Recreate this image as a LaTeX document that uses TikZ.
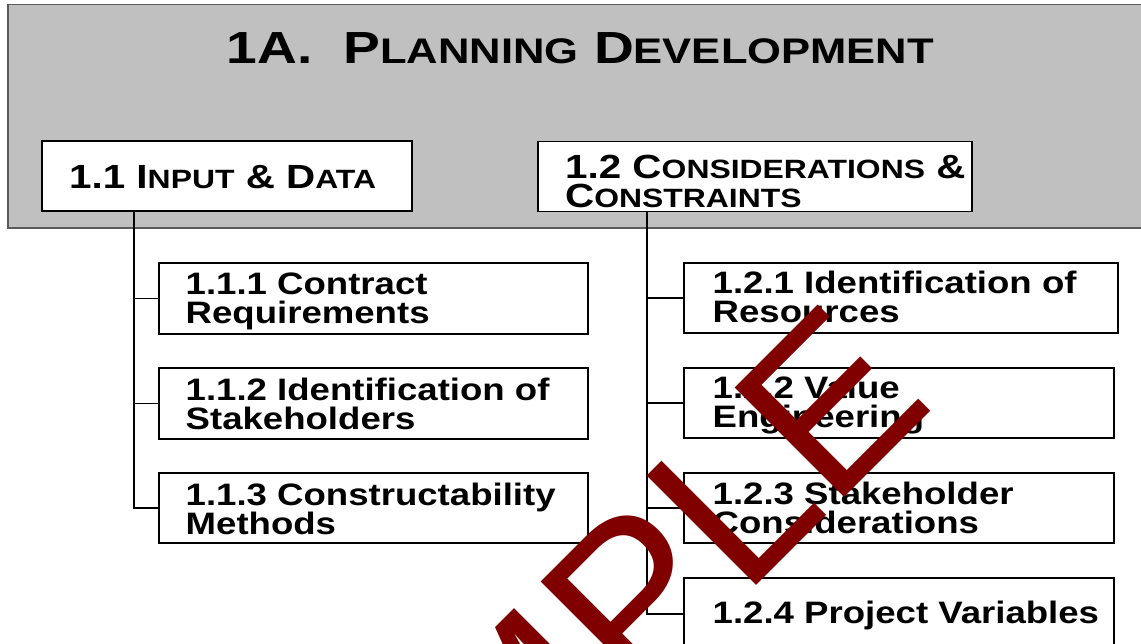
\documentclass[tikz,border=0pt]{standalone}
\usepackage{graphicx}
\usepackage{fontspec}
\setmainfont{Liberation Sans}
\usetikzlibrary{calc}
\definecolor{hdrgray}{HTML}{C0C0C0}
\definecolor{hdrline}{HTML}{5A5A5A}
\definecolor{wmred}{HTML}{800000}
\newcommand\smc[1]{\scalebox{0.79}{#1}}
\newcommand\wide[1]{\scalebox{1.18}[1]{#1}}
\newcommand\wider[1]{\scalebox{1.205}[1]{#1}}
\begin{document}
\begin{tikzpicture}[x=1pt,y=-1pt,
  box/.style={draw=black, line width=1.8pt, fill=white, inner sep=0pt, outer sep=0pt, anchor=north west},
  conn/.style={draw=black, line width=1.1pt},
  titletext/.style={font=\fontsize{45}{45}\selectfont\bfseries, inner sep=0pt, anchor=base},
  lvone/.style={font=\fontsize{33.5}{33.5}\selectfont\bfseries, inner sep=0pt, anchor=base west},
  lvtwo/.style={font=\fontsize{31}{31}\selectfont\bfseries, inner sep=0pt, anchor=base west},
  watermark/.style={font=\fontsize{225}{225}\selectfont, text=wmred, inner sep=0pt, outer sep=0pt, rotate=45, anchor=base west}]
\useasboundingbox (0,0) rectangle (1141,644);
\clip (0,0) rectangle (1141,644);
\fill[white] (0,0) rectangle (1141,644);
% header band
\path[fill=hdrgray, draw=hdrline, line width=1.2pt] (8,4.5) rectangle (1150,228);
\node[titletext] (title) at (580.5,64) {\resizebox{707pt}{\height}{1A.\ \ P\smc{LANNING} D\smc{EVELOPMENT}}};
% level one boxes
\node[box, minimum width=370pt, minimum height=70pt] (b11) at (42,141) {};
\node[box, minimum width=434pt, minimum height=70pt] (b12) at (538,141.5) {};
\node[lvone] (t11) at (69,188.5) {\wider{1.1 I\smc{NPUT} \& D\smc{ATA}}};
\node[lvone] (t12a) at (565,178.3) {\wider{1.2 C\smc{ONSIDERATIONS} \&}};
\node[lvone] (t12b) at (565,207.7) {\wider{C\smc{ONSTRAINTS}}};
% level two boxes, left
\node[box, minimum width=429pt, minimum height=71pt] (b111) at (159,263) {};
\node[box, minimum width=429pt, minimum height=71pt] (b112) at (159,368) {};
\node[box, minimum width=429pt, minimum height=70pt] (b113) at (159,473) {};
% level two boxes, right
\node[box, minimum width=434pt, minimum height=70pt] (b121) at (684,263) {};
\node[box, minimum width=430pt, minimum height=70pt] (b122) at (684,368) {};
\node[box, minimum width=430pt, minimum height=70pt] (b123) at (684,473) {};
\node[box, minimum width=430pt, minimum height=72pt] (b124) at (684,578) {};
% texts
\node[lvtwo] (t111a) at (185.5,295) {\wide{1.1.1 Contract}};
\node[lvtwo] (t111b) at (185.5,324) {\wide{Requirements}};
\node[lvtwo] (t112a) at (185.5,400) {\wide{1.1.2 Identification of}};
\node[lvtwo] (t112b) at (185.5,429) {\wide{Stakeholders}};
\node[lvtwo] (t113a) at (185.5,505) {\wide{1.1.3 Constructability}};
\node[lvtwo] (t113b) at (185.5,534) {\wide{Methods}};
\node[lvtwo] (t121a) at (712.5,294) {\wide{1.2.1 Identification of}};
\node[lvtwo] (t121b) at (712.5,323) {\wide{Resources}};
\node[lvtwo] (t122a) at (712.5,399) {\wide{1.2.2 Value}};
\node[lvtwo] (t122b) at (712.5,428) {\wide{Engineering}};
\node[lvtwo] (t123a) at (712.5,504) {\wide{1.2.3 Stakeholder}};
\node[lvtwo] (t123b) at (712.5,533) {\wide{Considerations}};
\node[lvtwo] (t124) at (712.5,623) {\wide{1.2.4 Project Variables}};
% connectors
\coordinate (trunkL) at ($(b11.south west)+(92,0)$);
\coordinate (trunkR) at ($(b12.south west)+(109,0)$);
\draw[conn] (trunkL) |- (b111.west);
\draw[conn] (trunkL) |- (b112.west);
\draw[conn] (trunkL) |- (b113.west);
\draw[conn] (trunkR) |- (b121.west);
\draw[conn] (trunkR) |- (b122.west);
\draw[conn] (trunkR) |- (b123.west);
\draw[conn] (trunkR) |- (b124.west);
% watermark
\node[watermark] (wm) at (292.5,1049.5) {SAMPLE};
\end{tikzpicture}
\end{document}
